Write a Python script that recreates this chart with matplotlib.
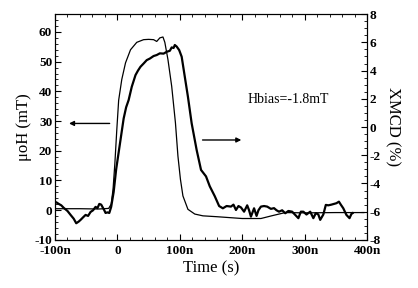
import numpy as np
import matplotlib
matplotlib.use('Agg')
import matplotlib.pyplot as plt
from matplotlib.ticker import MultipleLocator, FuncFormatter

plt.rcParams['font.family'] = 'Liberation Serif'
plt.rcParams['axes.unicode_minus'] = False

# field pulse (left axis, mT)
t_field = [-100, -60, -30, -14, -10, -7, -4, -1, 2, 7, 13, 21, 31, 42, 50, 58, 63, 68,
           73, 76, 81, 87, 93, 97, 101, 105, 113, 124, 137, 160, 180, 200, 230, 247,
           269, 300, 350, 395]
field = [0.5, 0.5, 0.4, 0.6, 2, 7, 16, 27, 37, 44, 49.6, 54, 56.5, 57.4, 57.5, 57.4,
         56.8, 58, 58.3, 56.5, 50.7, 41.7, 29.4, 18.2, 10.4, 4.8, 0.3, -1.3, -1.9,
         -2.2, -2.5, -2.8, -2.8, -1.9, -0.8, -0.9, -0.8, -0.8]

# XMCD signal (right axis, %)
t_xmcd = [-100, -97, -94, -90, -86, -80, -75, -70, -66, -62, -59, -55, -51, -47, -43,
          -39, -35, -32, -29, -26, -24, -21, -19, -16, -13, -10, -6, -2, 2, 5, 10, 14,
          18, 23, 29, 33, 37, 42, 47, 52, 58, 63, 68, 74, 79, 84, 87, 90, 92, 95, 99,
          103, 108, 113, 119, 127, 134, 142, 148, 156, 163, 169, 175, 182, 186, 190,
          194, 198, 203, 208, 211, 214, 219, 223, 226, 230, 235, 240, 246, 251, 255,
          259, 264, 269, 274, 280, 285, 290, 294, 298, 303, 309, 314, 318, 322, 325,
          330, 334, 338, 343, 347, 351, 355, 358, 362, 367, 372, 375, 377]
xmcd = [-5.3, -5.36, -5.45, -5.55, -5.73, -5.95, -6.23, -6.5, -6.82, -6.7, -6.58,
        -6.4, -6.23, -6.3, -6.02, -5.9, -5.66, -5.75, -5.45, -5.5, -5.66, -5.9, -6.09,
        -6.05, -6.09, -5.66, -4.6, -3.0, -1.8, -0.9, 0.6, 1.4, 1.91, 2.85, 3.68, 4.0,
        4.27, 4.5, 4.74, 4.85, 5.03, 5.1, 5.22, 5.2, 5.33, 5.4, 5.64, 5.6, 5.81, 5.7,
        5.45, 4.98, 3.56, 2.15, 0.26, -1.63, -3.04, -3.5, -4.2, -4.9, -5.6, -5.76,
        -5.6, -5.64, -5.5, -5.88, -5.6, -5.7, -6.0, -5.55, -5.9, -6.35, -5.76, -6.3,
        -5.9, -5.64, -5.6, -5.64, -5.8, -5.75, -5.9, -6.0, -5.9, -6.11, -5.95, -6.0,
        -6.23, -6.46, -6.0, -6.0, -6.2, -6.0, -6.46, -6.1, -6.2, -6.58, -6.2, -5.52,
        -5.55, -5.5, -5.45, -5.4, -5.29, -5.5, -5.76, -6.23, -6.46, -6.16, -6.1]

xticks = [-100, 0, 100, 200, 300, 400]

fig = plt.figure(figsize=(4.18, 2.88), dpi=100)
ax = fig.add_axes([0.1316, 0.167, 0.7464, 0.784])
ax2 = ax.twinx()

ax.plot(t_field, field, color='black', lw=0.9)
ax2.plot(t_xmcd, xmcd, color='black', lw=1.6)

ax.set_xlim(-100, 400)
ax.set_ylim(-10, 66)
ax2.set_ylim(-8, 8)

ax.set_xticks(xticks)
ax.xaxis.set_major_formatter(FuncFormatter(lambda v, p: '0' if v == 0 else '%dn' % v))
ax.xaxis.set_minor_locator(MultipleLocator(20))
ax.yaxis.set_major_locator(MultipleLocator(10))
ax.yaxis.set_minor_locator(MultipleLocator(2))
ax2.yaxis.set_major_locator(MultipleLocator(2))
ax2.yaxis.set_minor_locator(MultipleLocator(0.5))

ax.tick_params(which='both', direction='in', top=True)
ax.tick_params(which='major', length=4, labelsize=9.5, pad=2)
ax.tick_params(axis='x', which='major', pad=4)
ax.tick_params(which='minor', length=2)
ax2.tick_params(which='both', direction='in')
ax2.tick_params(which='major', length=4, labelsize=9.5, pad=2)
ax2.tick_params(which='minor', length=2)
for lab in ax.get_xticklabels() + ax.get_yticklabels() + ax2.get_yticklabels():
    lab.set_fontweight('bold')

ax.set_xlabel('Time (s)', fontsize=12, labelpad=2)
ax.set_ylabel('μoH (mT)', fontsize=12, labelpad=2)
ax2.set_ylabel('XMCD (%)', fontsize=12, rotation=270, labelpad=14)

ax.text(0.748, 0.62, 'Hbias=-1.8mT', transform=ax.transAxes, ha='center', va='center',
        fontsize=10)

ax.annotate('', xy=(-82, 29.2), xytext=(-8, 29.2),
            arrowprops=dict(arrowstyle='-|>', color='black', lw=1.0, mutation_scale=7))
ax2.annotate('', xy=(203, -0.92), xytext=(132, -0.92),
             arrowprops=dict(arrowstyle='-|>', color='black', lw=1.0, mutation_scale=7))

plt.savefig('out.png', dpi=100)
